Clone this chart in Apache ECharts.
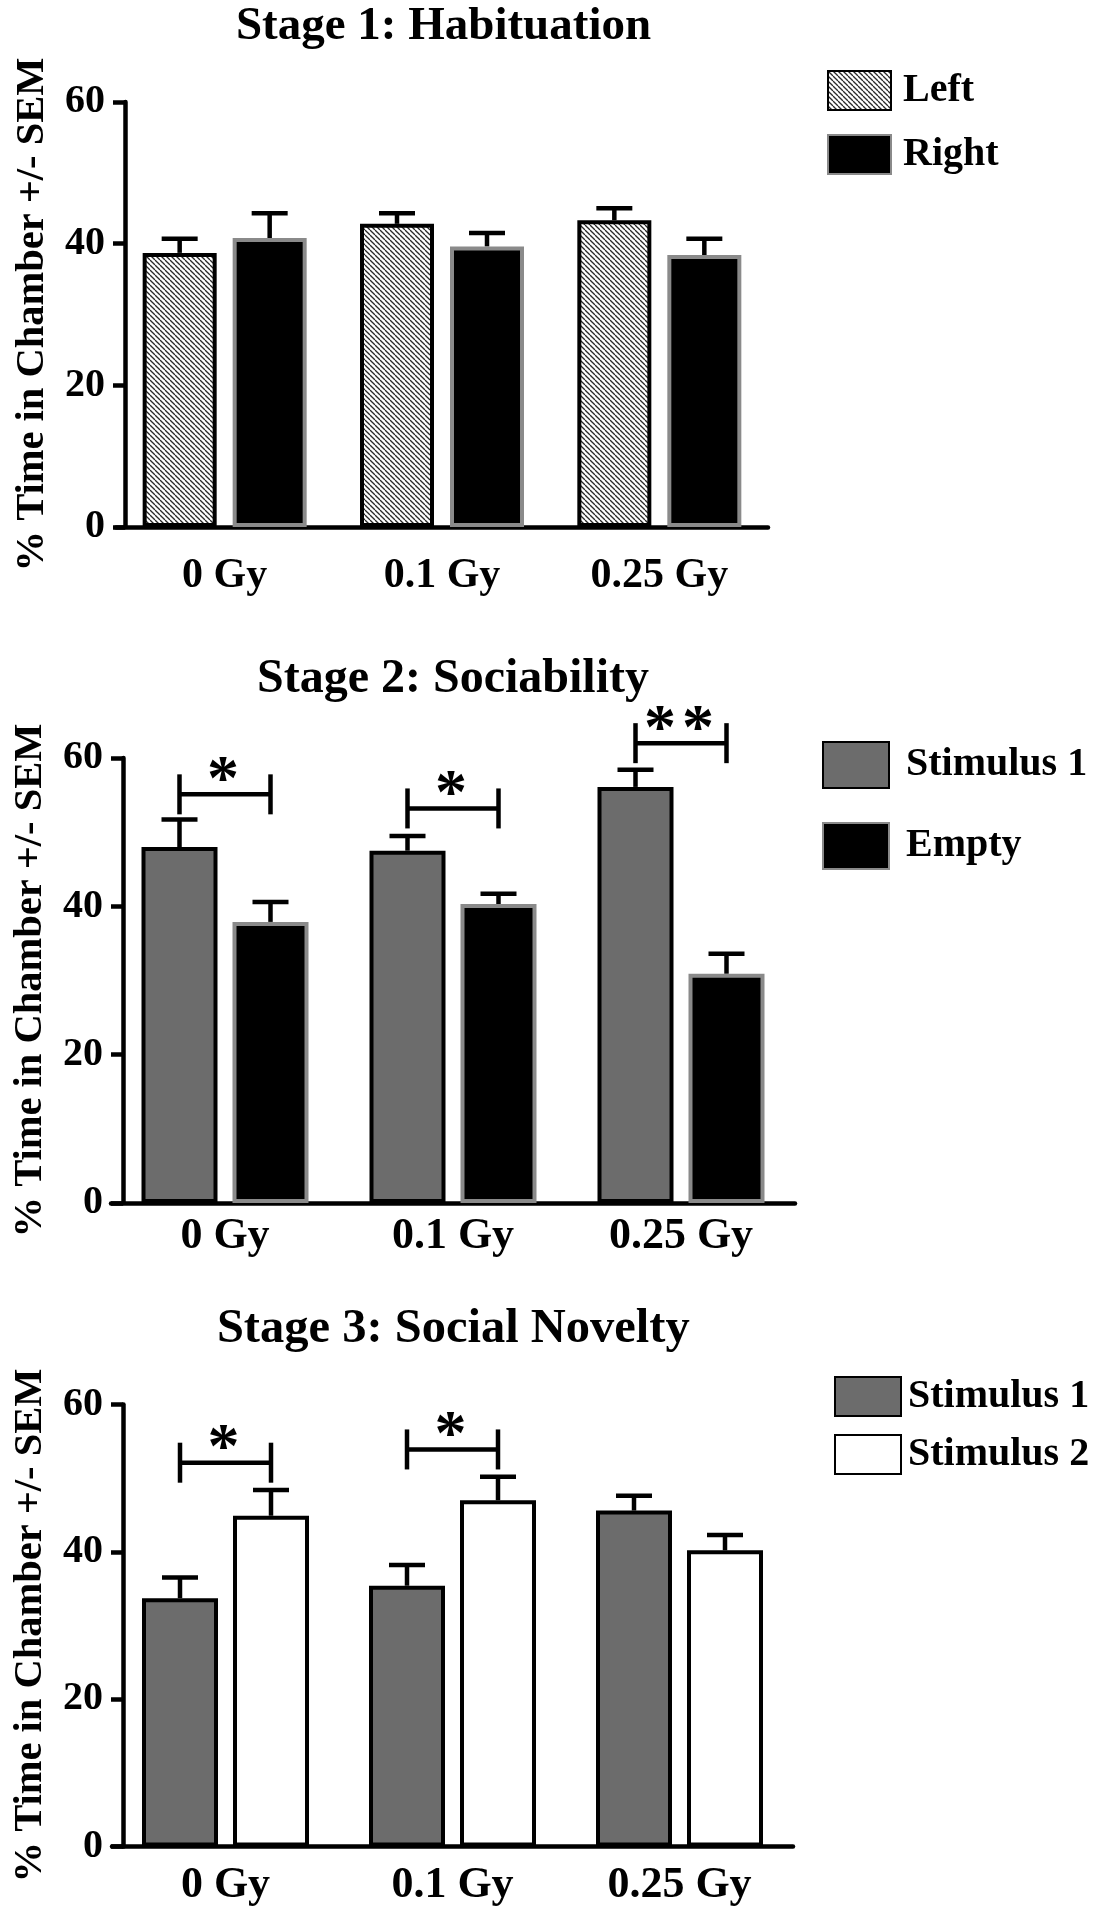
<!DOCTYPE html>
<html><head><meta charset="utf-8">
<script src="https://cdn.jsdelivr.net/npm/echarts@6/dist/echarts.min.js"></script>
<style>html,body{margin:0;padding:0;background:#fff}#c{width:1102px;height:1920px}</style>
</head><body><div id="c"></div>
<script>
// ---------- data ----------
const categories = ['0 Gy', '0.1 Gy', '0.25 Gy'];
const yMin = 0, yMax = 60, yStep = 20;
const yAxisTitle = '% Time in Chamber +/- SEM';

// Stage 1: Habituation
const s1Title = 'Stage 1: Habituation';
const s1Names = ['Left', 'Right'];
const s1Left = [38.7, 42.8, 43.3];
const s1LeftSem = [2.0, 1.5, 1.7];
const s1Right = [40.8, 39.6, 38.4];
const s1RightSem = [3.5, 1.9, 2.3];

// Stage 2: Sociability
const s2Title = 'Stage 2: Sociability';
const s2Names = ['Stimulus 1', 'Empty'];
const s2Stim1 = [48.0, 47.5, 56.1];
const s2Stim1Sem = [3.7, 2.0, 2.3];
const s2Empty = [37.9, 40.3, 30.9];
const s2EmptySem = [2.7, 1.4, 2.7];
const s2SigCat = [0, 1, 2];
const s2SigLevel = [55.1, 53.2, 62.0];
const s2SigMark = ['*', '*', '**'];

// Stage 3: Social Novelty
const s3Title = 'Stage 3: Social Novelty';
const s3Names = ['Stimulus 1', 'Stimulus 2'];
const s3Stim1 = [33.7, 35.4, 45.6];
const s3Stim1Sem = [2.8, 2.8, 2.0];
const s3Stim2 = [44.9, 47.0, 40.2];
const s3Stim2Sem = [3.5, 3.2, 2.1];
const s3SigCat = [0, 1];
const s3SigLevel = [52.1, 53.9];
const s3SigMark = ['*', '*'];

// ---------- styling ----------
const FONT = 'Liberation Serif';
const txt = (size) => ({ fontSize: size, fontWeight: 'bold', fontFamily: FONT, color: '#000' });

function hatchCanvas() {
  const s = 5;
  const c = document.createElement('canvas');
  c.width = s; c.height = s;
  const g = c.getContext('2d');
  g.fillStyle = '#ffffff'; g.fillRect(0, 0, s, s);
  g.strokeStyle = '#2a2a2a'; g.lineWidth = 1.3;
  for (const x0 of [-s, 0, s]) { g.beginPath(); g.moveTo(x0, 0); g.lineTo(x0 + s, s); g.stroke(); }
  return c;
}
const hatch = { image: hatchCanvas(), repeat: 'repeat' };

const grids = [
  { left: 116, top: 102, width: 652, height: 425 },
  { left: 111, top: 758, width: 684, height: 445 },
  { left: 112, top: 1404.5, width: 681, height: 442 }
];
const yOffsets = [-9, -12, -11];
const xLabelMargin = [28, 12, 17];
const xLabelSize = [42, 44, 44];
const titleSize = [47, 48, 48.5];
const barW = [74, 76, 76];
const barGapPx = [16, 15, 15];

const styleLeft = { color: hatch, borderColor: '#000', borderWidth: 4 };
const styleBlack = { color: '#000', borderColor: '#8a8a8a', borderWidth: 4 };
const styleGray = { color: '#6c6c6c', borderColor: '#000', borderWidth: 4 };
const styleWhite = { color: '#fff', borderColor: '#000', borderWidth: 4 };

function barSeries(name, idx, vals, style) {
  return { name, type: 'bar', xAxisIndex: idx, yAxisIndex: idx, data: vals, barWidth: barW[idx],
    barGap: (barGapPx[idx] / barW[idx] * 100) + '%', itemStyle: style, silent: true, z: 2 };
}
function pairOffset(idx) { return (barW[idx] + barGapPx[idx]) / 2; }

function errSeries(idx, vals, sems, side) {
  const off = side * pairOffset(idx);
  return {
    type: 'custom', xAxisIndex: idx, yAxisIndex: idx, z: 1, clip: false, silent: true,
    data: vals.map((v, i) => [i, v, sems[i]]),
    renderItem: (p, api) => {
      const i = api.value(0), v = api.value(1), s = api.value(2);
      const a = api.coord([i, v]), b = api.coord([i, v + s]);
      const x = a[0] + off;
      const st = { stroke: '#000', lineWidth: 4.5 };
      return { type: 'group', children: [
        { type: 'line', shape: { x1: x, y1: a[1], x2: x, y2: b[1] }, style: st },
        { type: 'line', shape: { x1: x - 18, y1: b[1], x2: x + 18, y2: b[1] }, style: st }
      ] };
    }
  };
}

function sigSeries(idx, cats, levels, marks) {
  const off = pairOffset(idx);
  return {
    type: 'custom', xAxisIndex: idx, yAxisIndex: idx, z: 3, clip: false, silent: true,
    data: cats.map((c, i) => [c, levels[i]]),
    renderItem: (p, api) => {
      const c = api.value(0), y = api.value(1);
      const a = api.coord([c, y]);
      const x1 = a[0] - off, x2 = a[0] + off, yy = a[1];
      const st = { stroke: '#000', lineWidth: 4.5 };
      const mark = marks[p.dataIndex];
      const children = [
        { type: 'line', shape: { x1: x1, y1: yy, x2: x2, y2: yy }, style: st },
        { type: 'line', shape: { x1: x1, y1: yy - 20, x2: x1, y2: yy + 20 }, style: st },
        { type: 'line', shape: { x1: x2, y1: yy - 20, x2: x2, y2: yy + 20 }, style: st }
      ];
      const n = mark.length;
      for (let k = 0; k < n; k++) {
        children.push({ type: 'text', x: a[0] - 2 + (k - (n - 1) / 2) * 38, y: yy - 12,
          style: { text: '*', fontSize: 64, fontWeight: 'bold', fontFamily: FONT, fill: '#000',
            align: 'center', verticalAlign: 'middle' } });
      }
      return { type: 'group', children };
    }
  };
}

const xAxes = grids.map((g, i) => ({
  type: 'category', gridIndex: i, data: categories,
  axisLine: { lineStyle: { color: '#000', width: 4.5 } },
  axisTick: { show: false },
  axisLabel: Object.assign(txt(xLabelSize[i]), { margin: xLabelMargin[i] })
}));
const yAxes = grids.map((g, i) => ({
  type: 'value', gridIndex: i, min: yMin, max: yMax, interval: yStep, offset: yOffsets[i],
  axisLine: { show: true, lineStyle: { color: '#000', width: 4.5 } },
  axisTick: { show: true, length: 12, lineStyle: { color: '#000', width: 4.5 } },
  splitLine: { show: false },
  axisLabel: Object.assign(txt(40), { margin: 20 }),
  name: yAxisTitle, nameLocation: 'middle', nameGap: 72, nameRotate: 90,
  nameTextStyle: txt(40.5)
}));

const legendBase = { orient: 'vertical', icon: 'rect', selectedMode: false, padding: 0 };
const option = {
  animation: false,
  backgroundColor: '#fff',
  title: [
    { text: s1Title, left: 443.5, top: 3, textAlign: 'center', padding: 0, textStyle: txt(titleSize[0]) },
    { text: s2Title, left: 453, top: 656, textAlign: 'center', padding: 0, textStyle: txt(titleSize[1]) },
    { text: s3Title, left: 453.3, top: 1305, textAlign: 'center', padding: 0, textStyle: txt(titleSize[2]) }
  ],
  legend: [
    Object.assign({}, legendBase, { data: s1Names, left: 827, top: 70, itemWidth: 63, itemHeight: 39, itemGap: 23,
      textStyle: Object.assign(txt(40), { padding: [0, 0, 0, 7] }) }),
    Object.assign({}, legendBase, { data: s2Names, left: 822, top: 741, itemWidth: 66, itemHeight: 46, itemGap: 33,
      textStyle: Object.assign(txt(40), { padding: [0, 0, 0, 12] }) }),
    Object.assign({}, legendBase, { data: ['Stimulus 1 ', 'Stimulus 2'], left: 834, top: 1376, itemWidth: 66, itemHeight: 39, itemGap: 17,
      textStyle: Object.assign(txt(40), { padding: [0, 0, 0, 2] }) })
  ],
  grid: grids.map(g => Object.assign({ containLabel: false }, g)),
  xAxis: xAxes,
  yAxis: yAxes,
  series: [
    barSeries(s1Names[0], 0, s1Left, styleLeft),
    barSeries(s1Names[1], 0, s1Right, styleBlack),
    errSeries(0, s1Left, s1LeftSem, -1),
    errSeries(0, s1Right, s1RightSem, 1),

    barSeries(s2Names[0], 1, s2Stim1, styleGray),
    barSeries(s2Names[1], 1, s2Empty, styleBlack),
    errSeries(1, s2Stim1, s2Stim1Sem, -1),
    errSeries(1, s2Empty, s2EmptySem, 1),
    sigSeries(1, s2SigCat, s2SigLevel, s2SigMark),

    barSeries(s3Names[0] + ' ', 2, s3Stim1, styleGray),
    barSeries(s3Names[1], 2, s3Stim2, styleWhite),
    errSeries(2, s3Stim1, s3Stim1Sem, -1),
    errSeries(2, s3Stim2, s3Stim2Sem, 1),
    sigSeries(2, s3SigCat, s3SigLevel, s3SigMark)
  ]
};
const chart = echarts.init(document.getElementById('c'), null, { renderer: 'canvas' });
chart.setOption(option);
</script>
</body></html>
